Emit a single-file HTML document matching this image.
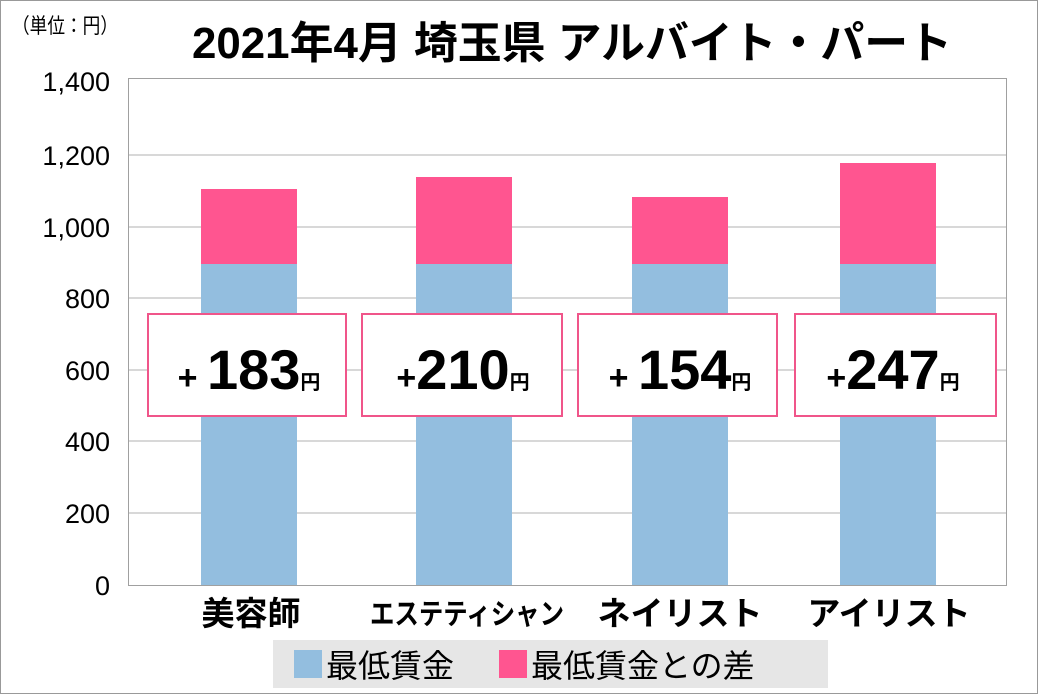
<!DOCTYPE html>
<html><head><meta charset="utf-8"><style>
body{margin:0;background:#fff}
svg{display:block}
text{font-family:"Liberation Sans","Noto Sans CJK JP",sans-serif}
</style></head><body>
<svg width="1040" height="696" viewBox="0 0 1040 696">
<rect x="0.5" y="0.5" width="1037" height="693" fill="#fff" stroke="#999"/>
<text x="12" y="33" font-size="21" fill="#000" textLength="106" lengthAdjust="spacingAndGlyphs">（単位：円）</text>
<text x="572" y="58" font-size="44" font-weight="bold" text-anchor="middle" fill="#000" textLength="760" lengthAdjust="spacingAndGlyphs">2021年4月 埼玉県 アルバイト・パート</text>
<g stroke="#b0b0b0" stroke-width="1">
<line x1="128" y1="155" x2="1007" y2="155"/>
<line x1="128" y1="227" x2="1007" y2="227"/>
<line x1="128" y1="298" x2="1007" y2="298"/>
<line x1="128" y1="370" x2="1007" y2="370"/>
<line x1="128" y1="441" x2="1007" y2="441"/>
<line x1="128" y1="513" x2="1007" y2="513"/>
</g>
<rect x="128.5" y="78.5" width="878" height="507" fill="none" stroke="#a0a0a0"/>
<g font-size="27" text-anchor="end" fill="#000">
<text x="110" y="91">1,400</text>
<text x="110" y="165">1,200</text>
<text x="110" y="237">1,000</text>
<text x="110" y="308">800</text>
<text x="110" y="380">600</text>
<text x="110" y="451">400</text>
<text x="110" y="523">200</text>
<text x="110" y="595">0</text>
</g>
<g fill="#93bedf">
<rect x="201" y="264" width="96" height="321"/>
<rect x="416" y="264" width="96" height="321"/>
<rect x="632" y="264" width="96" height="321"/>
<rect x="840" y="264" width="96" height="321"/>
</g>
<g fill="#ff5590">
<rect x="201" y="189" width="96" height="75"/>
<rect x="416" y="177" width="96" height="87"/>
<rect x="632" y="197" width="96" height="67"/>
<rect x="840" y="163" width="96" height="101"/>
</g>
<g fill="#fff" stroke="#f0558a" stroke-width="2">
<rect x="148" y="314" width="198" height="102"/>
<rect x="362" y="314" width="200" height="102"/>
<rect x="578" y="314" width="199" height="102"/>
<rect x="795" y="314" width="201" height="102"/>
</g>
<g font-weight="bold" fill="#000">
<text x="249" y="389" text-anchor="middle"><tspan font-size="34">+ </tspan><tspan font-size="56">183</tspan><tspan font-size="20">円</tspan></text>
<text x="463" y="389" text-anchor="middle"><tspan font-size="34">+</tspan><tspan font-size="56">210</tspan><tspan font-size="20">円</tspan></text>
<text x="680" y="389" text-anchor="middle"><tspan font-size="34">+ </tspan><tspan font-size="56">154</tspan><tspan font-size="20">円</tspan></text>
<text x="893" y="389" text-anchor="middle"><tspan font-size="34">+</tspan><tspan font-size="56">247</tspan><tspan font-size="20">円</tspan></text>
</g>
<g font-size="33" font-weight="bold" text-anchor="middle" fill="#000">
<text x="251" y="625">美容師</text>
<text x="467" y="624" font-size="29" textLength="194" lengthAdjust="spacingAndGlyphs">エステティシャン</text>
<text x="680" y="625">ネイリスト</text>
<text x="889" y="625">アイリスト</text>
</g>
<rect x="273" y="640" width="555" height="48" fill="#e6e6e6"/>
<rect x="294" y="650" width="28" height="28" fill="#93bedf"/>
<rect x="499" y="650" width="28" height="28" fill="#ff5590"/>
<g font-size="32" fill="#000">
<text x="326" y="677">最低賃金</text>
<text x="531" y="677">最低賃金との差</text>
</g>
</svg>
</body></html>
